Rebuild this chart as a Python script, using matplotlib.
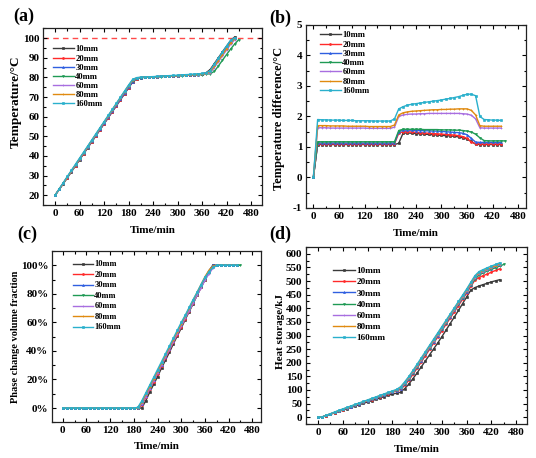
import numpy as np
import matplotlib
matplotlib.use('Agg')
import matplotlib.pyplot as plt
from matplotlib.ticker import MultipleLocator, PercentFormatter

plt.rcParams['font.family'] = ['Liberation Serif', 'DejaVu Serif']
plt.rcParams['font.weight'] = 'bold'
plt.rcParams['axes.unicode_minus'] = False

# sampling times (min); 40mm runs 10 min longer
time = list(range(0, 450, 10))
time_40 = list(range(0, 460, 10))

labels = ['10mm', '20mm', '30mm', '40mm', '60mm', '80mm', '160mm']
colors = ['#3a3a3a', '#ff2a2a', '#2f5fe0', '#1f9a55', '#a86ee0', '#e08a10', '#2ab0cc']
markers = ['s', 'o', '^', 'v', '+', '+', 's']

# (a) temperature, degC
temp = {
    '10mm': [20.0, 22.9, 25.9, 28.9, 32.0, 35.0, 38.1, 41.1, 44.2, 47.2, 50.3, 53.3, 56.4, 59.4, 62.5,
             65.5, 68.6, 71.6, 74.7, 77.6, 79.3, 79.9, 80.1, 80.2, 80.3, 80.4, 80.5, 80.6, 80.7, 80.8,
             80.9, 81.0, 81.1, 81.2, 81.4, 81.5, 81.8, 82.4, 84.0, 87.0, 90.0, 93.0, 95.9, 98.7, 100.6],
    '20mm': [20.0, 23.0, 26.0, 29.0, 32.1, 35.1, 38.2, 41.2, 44.3, 47.3, 50.4, 53.4, 56.5, 59.5, 62.6,
             65.6, 68.7, 71.7, 74.8, 77.8, 79.4, 79.9, 80.1, 80.2, 80.3, 80.4, 80.5, 80.6, 80.7, 80.8,
             80.9, 81.0, 81.1, 81.2, 81.3, 81.5, 81.7, 82.2, 83.4, 86.4, 89.4, 92.4, 95.3, 98.2, 100.3],
    '30mm': [20.0, 23.0, 26.1, 29.1, 32.2, 35.2, 38.3, 41.3, 44.4, 47.4, 50.5, 53.5, 56.6, 59.6, 62.7,
             65.7, 68.8, 71.8, 74.9, 77.9, 79.5, 79.9, 80.1, 80.2, 80.3, 80.4, 80.5, 80.6, 80.7, 80.8,
             80.9, 81.0, 81.1, 81.2, 81.3, 81.4, 81.6, 82.0, 83.1, 86.1, 89.1, 92.0, 95.0, 97.9, 100.1],
    '40mm': [20.0, 23.0, 26.1, 29.2, 32.3, 35.4, 38.5, 41.6, 44.7, 47.8, 50.9, 54.0, 57.1, 60.2, 63.3,
             66.4, 69.5, 72.6, 75.6, 78.4, 79.6, 79.9, 80.0, 80.1, 80.2, 80.3, 80.4, 80.5, 80.6, 80.7,
             80.8, 80.9, 81.0, 81.1, 81.2, 81.3, 81.4, 81.6, 81.9, 83.0, 85.8, 88.7, 91.6, 94.4, 97.0, 99.2],
    '60mm': [20.0, 23.0, 26.1, 29.2, 32.3, 35.4, 38.5, 41.6, 44.7, 47.8, 50.9, 54.0, 57.1, 60.2, 63.3,
             66.4, 69.5, 72.6, 75.7, 78.6, 79.7, 80.0, 80.1, 80.2, 80.3, 80.4, 80.5, 80.6, 80.7, 80.8,
             80.9, 81.0, 81.1, 81.2, 81.3, 81.4, 81.5, 81.8, 82.3, 85.0, 88.0, 91.0, 93.9, 96.8, 99.2],
    '80mm': [20.0, 23.1, 26.2, 29.3, 32.4, 35.5, 38.6, 41.7, 44.8, 47.9, 51.0, 54.1, 57.2, 60.3, 63.4,
             66.5, 69.6, 72.7, 75.8, 78.7, 79.7, 80.0, 80.1, 80.2, 80.3, 80.4, 80.5, 80.6, 80.7, 80.8,
             80.9, 81.0, 81.1, 81.2, 81.3, 81.4, 81.6, 81.9, 82.8, 85.6, 88.6, 91.6, 94.5, 97.4, 99.8],
    '160mm': [20.0, 23.2, 26.4, 29.6, 32.7, 35.8, 38.9, 42.0, 45.1, 48.2, 51.3, 54.4, 57.5, 60.6, 63.7,
              66.8, 69.9, 73.0, 76.1, 79.0, 79.9, 80.1, 80.2, 80.3, 80.4, 80.5, 80.6, 80.8, 80.9, 81.0,
              81.1, 81.3, 81.4, 81.5, 81.7, 81.8, 82.0, 82.3, 83.5, 86.6, 89.7, 92.8, 95.9, 98.9, 100.2],
}

# (b) temperature difference, degC
tdiff = {
    '10mm': [0, 1.08, 1.08, 1.08, 1.08, 1.08, 1.08, 1.08, 1.08, 1.08, 1.08, 1.08, 1.08, 1.08, 1.08,
             1.08, 1.08, 1.08, 1.08, 1.08, 1.12, 1.45, 1.46, 1.45, 1.44, 1.43, 1.42, 1.41, 1.40, 1.39,
             1.38, 1.37, 1.36, 1.35, 1.33, 1.30, 1.26, 1.18, 1.09, 1.08, 1.08, 1.08, 1.08, 1.08, 1.08],
    '20mm': [0, 1.10, 1.10, 1.10, 1.10, 1.10, 1.10, 1.10, 1.10, 1.10, 1.10, 1.10, 1.10, 1.10, 1.10,
             1.10, 1.10, 1.10, 1.10, 1.10, 1.45, 1.50, 1.50, 1.49, 1.48, 1.47, 1.46, 1.45, 1.44, 1.43,
             1.42, 1.41, 1.40, 1.39, 1.37, 1.34, 1.28, 1.16, 1.11, 1.10, 1.10, 1.10, 1.10, 1.10, 1.10],
    '30mm': [0, 1.13, 1.13, 1.13, 1.13, 1.13, 1.13, 1.13, 1.13, 1.13, 1.13, 1.13, 1.13, 1.13, 1.13,
             1.13, 1.13, 1.13, 1.13, 1.13, 1.50, 1.55, 1.55, 1.55, 1.54, 1.54, 1.53, 1.53, 1.52, 1.52,
             1.51, 1.50, 1.49, 1.48, 1.47, 1.45, 1.40, 1.28, 1.16, 1.15, 1.15, 1.15, 1.15, 1.15, 1.15],
    '40mm': [0, 1.17, 1.17, 1.17, 1.17, 1.17, 1.17, 1.17, 1.17, 1.17, 1.17, 1.17, 1.17, 1.17, 1.17,
             1.17, 1.17, 1.17, 1.17, 1.17, 1.54, 1.58, 1.58, 1.58, 1.58, 1.58, 1.57, 1.57, 1.57, 1.57,
             1.56, 1.56, 1.56, 1.55, 1.55, 1.54, 1.52, 1.49, 1.42, 1.30, 1.21, 1.20, 1.20, 1.20, 1.20, 1.20],
    '60mm': [0, 1.63, 1.63, 1.63, 1.62, 1.62, 1.62, 1.62, 1.62, 1.62, 1.62, 1.62, 1.62, 1.61, 1.61,
             1.61, 1.61, 1.61, 1.61, 1.65, 2.00, 2.05, 2.07, 2.08, 2.08, 2.09, 2.09, 2.10, 2.10, 2.10,
             2.10, 2.10, 2.10, 2.10, 2.10, 2.09, 2.08, 2.04, 1.92, 1.63, 1.62, 1.62, 1.62, 1.62, 1.62],
    '80mm': [0, 1.70, 1.70, 1.70, 1.69, 1.69, 1.69, 1.69, 1.68, 1.68, 1.68, 1.68, 1.68, 1.67, 1.67,
             1.67, 1.67, 1.67, 1.67, 1.72, 2.05, 2.12, 2.15, 2.17, 2.18, 2.19, 2.20, 2.21, 2.22, 2.22,
             2.23, 2.23, 2.24, 2.24, 2.25, 2.25, 2.25, 2.20, 2.05, 1.70, 1.68, 1.68, 1.68, 1.68, 1.68],
    '160mm': [0, 1.90, 1.89, 1.89, 1.88, 1.88, 1.88, 1.87, 1.87, 1.87, 1.86, 1.86, 1.86, 1.86, 1.85,
              1.85, 1.85, 1.85, 1.85, 1.92, 2.25, 2.32, 2.37, 2.40, 2.42, 2.44, 2.46, 2.48, 2.50, 2.52,
              2.54, 2.57, 2.59, 2.62, 2.65, 2.69, 2.73, 2.73, 2.68, 2.00, 1.90, 1.89, 1.88, 1.88, 1.87],
}

# (c) phase change volume fraction, %
frac = {
    '10mm': [0, 0, 0, 0, 0, 0, 0, 0, 0, 0, 0, 0, 0, 0, 0, 0, 0, 0, 0, 0, 0,
             5, 11, 16.5, 22, 28, 33.5, 39, 45, 50.5, 56, 62, 67.5, 73, 79, 84.5, 90, 96,
             100, 100, 100, 100, 100, 100, 100],
    '20mm': [0, 0, 0, 0, 0, 0, 0, 0, 0, 0, 0, 0, 0, 0, 0, 0, 0, 0, 0, 0,
             2, 7.5, 13, 18.5, 24, 29.5, 35, 40.5, 46, 51.5, 57, 62.5, 68, 73.5, 79, 84.5, 90, 95.5, 99.5,
             100, 100, 100, 100, 100, 100],
    '30mm': [0, 0, 0, 0, 0, 0, 0, 0, 0, 0, 0, 0, 0, 0, 0, 0, 0, 0, 0, 0,
             3, 8.5, 14, 19.5, 25, 30.5, 36, 41.5, 47, 52.5, 58, 63.5, 69, 74.5, 80, 85.5, 91, 96, 100,
             100, 100, 100, 100, 100, 100],
    '40mm': [0, 0, 0, 0, 0, 0, 0, 0, 0, 0, 0, 0, 0, 0, 0, 0, 0, 0, 0, 0,
             4, 9.5, 15, 20, 25.5, 31, 36.5, 42, 47.5, 53, 58, 63.5, 69, 74, 79.5, 85, 90, 94.5, 98.5,
             100, 100, 100, 100, 100, 100, 100],
    '60mm': [0, 0, 0, 0, 0, 0, 0, 0, 0, 0, 0, 0, 0, 0, 0, 0, 0, 0, 0, 0,
             3, 8, 13.5, 19, 24.5, 30, 35.5, 41, 46.5, 52, 57.5, 63, 68, 73.5, 79, 84, 89.5, 94, 98,
             100, 100, 100, 100, 100, 100],
    '80mm': [0, 0, 0, 0, 0, 0, 0, 0, 0, 0, 0, 0, 0, 0, 0, 0, 0, 0, 0, 0,
             4, 9.5, 15, 20.5, 26, 31.5, 37, 42.5, 48, 53.5, 59, 64.5, 70, 75.5, 81, 86.5, 92, 96.5, 99.5,
             100, 100, 100, 100, 100, 100],
    '160mm': [0, 0, 0, 0, 0, 0, 0, 0, 0, 0, 0, 0, 0, 0, 0, 0, 0, 0, 0,
              0.5, 5, 10.5, 16, 21.5, 27, 32.5, 38, 43.5, 49, 54.5, 60, 65, 70.5, 76, 81, 86.5, 91.5, 95.5, 98.5,
              100, 100, 100, 100, 100, 100],
}

# (d) heat storage, kJ
heat = {
    '10mm': [0, 1, 5.5, 11, 16, 21, 26, 31, 36, 41, 46, 51, 56, 60.5, 65.5, 70.5, 75.5, 80.5, 85, 88,
             92, 105, 122, 142, 163, 185, 207, 229, 251, 273, 296, 320, 344, 368, 392, 417, 442, 467, 476,
             482, 487, 492, 497, 501, 505],
    '20mm': [0, 1, 6, 11.5, 17, 22.5, 28, 33, 38.5, 44, 49, 54.5, 60, 65, 70.5, 76, 81, 86, 91.5, 96.5,
             102, 117, 136, 158, 180, 203, 226, 249, 272, 295, 318, 341, 364, 387, 410, 433, 456, 480, 504,
             513, 520, 526, 533, 539, 545],
    '30mm': [0, 1, 6.5, 12, 17.5, 23, 28.5, 34, 39, 44.5, 50, 55.5, 61, 66, 71.5, 77, 82, 87.5, 93, 98,
             105, 121, 141, 163, 185, 208, 231, 254, 277, 300, 323, 346, 369, 392, 415, 438, 461, 486, 510,
             525, 532, 539, 546, 552, 558],
    '40mm': [0, 1, 6.5, 12, 17.5, 23, 28.5, 34, 39.5, 45, 50.5, 55.5, 61, 66.5, 72, 77, 82.5, 88, 93.5, 98.5,
             106, 122, 142, 164, 186, 209, 232, 255, 278, 301, 324, 347, 370, 393, 416, 439, 462, 487, 507,
             522, 530, 537, 543, 549, 555, 561],
    '60mm': [0, 1, 6.5, 12, 17.5, 23, 28.5, 34, 39.5, 45, 50.5, 56, 61, 66.5, 72, 77.5, 83, 88, 93.5, 99,
             107, 124, 144, 166, 188, 211, 234, 257, 280, 303, 326, 349, 372, 395, 418, 441, 464, 489, 513,
             527, 534, 541, 548, 554, 560],
    '80mm': [0, 1, 6.5, 12.5, 18, 24, 29.5, 35, 40.5, 46, 51.5, 57, 62.5, 68, 73.5, 79, 84, 89.5, 95, 100,
             110, 128, 148, 170, 192, 215, 238, 261, 284, 307, 330, 353, 376, 399, 422, 445, 468, 493, 517,
             530, 537, 544, 550, 557, 563],
    '160mm': [0, 1, 7, 13, 19, 25, 30.5, 36, 41.5, 47, 52.5, 58, 63.5, 69, 74.5, 80, 85.5, 91, 96.5, 102,
              112, 130, 150, 172, 195, 218, 241, 264, 287, 310, 333, 356, 379, 402, 425, 448, 471, 496, 520,
              535, 542, 549, 555, 561, 567],
}

fig = plt.figure(figsize=(5.36, 4.58), dpi=100)

panels = [
    # data, rect, xlim, ylim, ylabel, ylabel fontsize, ylabel coords, xlabel y, legend anchor, legend fs, spacing
    (temp, [0.0808, 0.5524, 0.408, 0.3858], (-29, 507), (15, 105), 'Temperature/°C', 9.5, (-0.097, 0.585), -0.119, (0.044, 0.903), 6.2, 0.12),
    (tdiff, [0.5703, 0.5459, 0.411, 0.3996], (-18, 498), (-1, 5), 'Temperature difference/°C', 9.0, (-0.092, 0.49), -0.115, (0.065, 0.966), 6.2, 0.15),
    (frac, [0.0965, 0.0779, 0.3905, 0.374], (-28, 502), (-10, 110), 'Phase change volume fraction', 7.5, (-0.151, 0.5), -0.113, (0.10, 0.945), 6.0, 0.3),
    (heat, [0.5703, 0.0742, 0.4129, 0.3865], (-30, 506), (-25, 625), 'Heat storage/kJ', 8.0, (-0.094, 0.52), -0.119, (0.123, 0.888), 6.6, 0.3),
]

axes = []
for data, rect, xl, yl, ylab, yfs, ycoord, xly, lanchor, lfs, lsp in panels:
    ax = fig.add_axes(rect)
    for lab, col, mk in zip(labels, colors, markers):
        x = time_40 if lab == '40mm' else time
        ax.plot(x, data[lab], '-', color=col, marker=mk, markersize=1.4,
                markeredgewidth=0.5, linewidth=1.0, label=lab)
    ax.set_xlim(*xl)
    ax.set_ylim(*yl)
    ax.xaxis.set_major_locator(MultipleLocator(60))
    ax.xaxis.set_minor_locator(MultipleLocator(30))
    ax.tick_params(which='both', direction='in', top=True, right=True, width=0.8, labelsize=8)
    ax.tick_params(which='major', length=3.2)
    ax.tick_params(which='minor', length=1.8)
    ax.tick_params(axis='x', pad=3)
    ax.tick_params(axis='y', pad=2.5)
    for s in ax.spines.values():
        s.set_linewidth(0.9)
        s.set_color('#222222')
    ax.set_xlabel('Time/min', fontsize=8, fontweight='bold')
    ax.xaxis.set_label_coords(0.5, xly)
    ax.set_ylabel(ylab, fontsize=yfs, fontweight='bold')
    ax.yaxis.set_label_coords(*ycoord)
    ax.legend(loc='upper left', bbox_to_anchor=lanchor, frameon=False, fontsize=lfs,
              handlelength=2.4, handletextpad=0.2, labelspacing=lsp, borderpad=0,
              borderaxespad=0)
    axes.append(ax)

ax_a, ax_b, ax_c, ax_d = axes
ax_a.axhline(100, color='#ff4a4a', linestyle=(0, (4, 3)), linewidth=1.0, zorder=0)
ax_a.yaxis.set_major_locator(MultipleLocator(10))
ax_a.yaxis.set_minor_locator(MultipleLocator(5))
ax_b.yaxis.set_major_locator(MultipleLocator(1))
ax_b.yaxis.set_minor_locator(MultipleLocator(0.5))
ax_c.yaxis.set_major_locator(MultipleLocator(20))
ax_c.yaxis.set_minor_locator(MultipleLocator(10))
ax_c.yaxis.set_major_formatter(PercentFormatter(decimals=0))
ax_d.yaxis.set_major_locator(MultipleLocator(50))
ax_d.yaxis.set_minor_locator(MultipleLocator(25))

for lbl, px, py in [('(a)', 24, 16), ('(b)', 280, 18), ('(c)', 27, 234), ('(d)', 280, 234)]:
    fig.text(px / 536, 1 - py / 458, lbl, fontsize=13, fontweight='bold', ha='center', va='center')

fig.savefig('out.png', dpi=100)
